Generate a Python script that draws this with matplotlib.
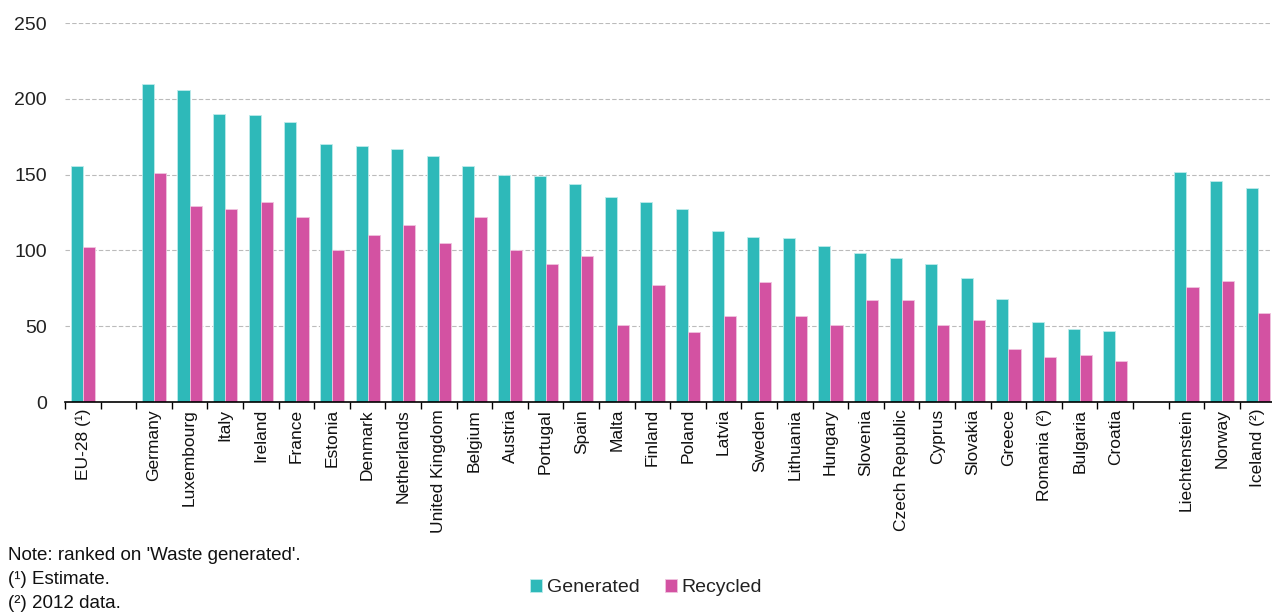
import matplotlib
matplotlib.use('Agg')
import matplotlib.pyplot as plt
import numpy as np

plt.rcParams['font.family'] = ['Liberation Sans', 'DejaVu Sans']

# waste per inhabitant (kg)
countries = ['EU-28 (¹)', '',
             'Germany', 'Luxembourg', 'Italy', 'Ireland', 'France', 'Estonia',
             'Denmark', 'Netherlands', 'United Kingdom', 'Belgium', 'Austria',
             'Portugal', 'Spain', 'Malta', 'Finland', 'Poland', 'Latvia',
             'Sweden', 'Lithuania', 'Hungary', 'Slovenia', 'Czech Republic',
             'Cyprus', 'Slovakia', 'Greece', 'Romania (²)', 'Bulgaria',
             'Croatia', '',
             'Liechtenstein', 'Norway', 'Iceland (²)']
generated = [156, np.nan,
             210, 206, 190, 189, 185, 170,
             169, 167, 162, 156, 150,
             149, 144, 135, 132, 127, 113,
             109, 108, 103, 98, 95,
             91, 82, 68, 53, 48,
             47, np.nan,
             152, 146, 141]
recycled = [102, np.nan,
            151, 129, 127, 132, 122, 100,
            110, 117, 105, 122, 100,
            91, 96, 51, 77, 46, 57,
            79, 57, 51, 67, 67,
            51, 54, 35, 30, 31,
            27, np.nan,
            76, 80, 59]

teal = '#2EB9B9'
pink = '#D352A2'

fig = plt.figure(figsize=(12.72, 6.15), dpi=100)
ax = fig.add_axes([0.0511, 0.3463, 0.9516, 0.6163])

x = np.arange(len(countries))
w = 0.34
ax.bar(x - w / 2, generated, w, color=teal, edgecolor='#BDEBEB', linewidth=0.6,
       label='Generated', zorder=3)
ax.bar(x + w / 2, recycled, w, color=pink, edgecolor='#F0C4DF', linewidth=0.6,
       label='Recycled', zorder=3)

ax.set_xlim(-0.5, len(countries) - 0.5)
ax.set_ylim(0, 250)
ax.set_yticks([0, 50, 100, 150, 200, 250])
ax.tick_params(axis='y', length=0, labelsize=14, colors='#222222', pad=13)
ax.yaxis.grid(True, linestyle=(0, (4, 2)), color='#BBBBBB', linewidth=0.8, zorder=0)

ax.set_xticks(x)
ax.set_xticklabels(countries, rotation=90, fontsize=12.5, color='#111111')
ax.tick_params(axis='x', which='major', length=0, pad=5)
ax.set_xticks(np.arange(len(countries) + 1) - 0.5, minor=True)
ax.tick_params(axis='x', which='minor', length=5, width=1, color='black', direction='out')

for s in ['top', 'right', 'left']:
    ax.spines[s].set_visible(False)
ax.spines['bottom'].set_color('black')
ax.spines['bottom'].set_linewidth(1.2)
ax.spines['bottom'].set_zorder(4)

fig.legend(loc='center', bbox_to_anchor=(0.508, 0.044), ncol=2, frameon=False,
           fontsize=14, handlelength=0.6, handleheight=0.6, handletextpad=0.25,
           columnspacing=1.3, labelcolor='#222222')

fig.text(0.006, 0.096, "Note: ranked on 'Waste generated'.", fontsize=13.5, va='center',
         color='#111111')
fig.text(0.006, 0.057, "(¹) Estimate.", fontsize=13.5, va='center', color='#111111')
fig.text(0.006, 0.018, "(²) 2012 data.", fontsize=13.5, va='center', color='#111111')

fig.savefig('out.png', dpi=100)
